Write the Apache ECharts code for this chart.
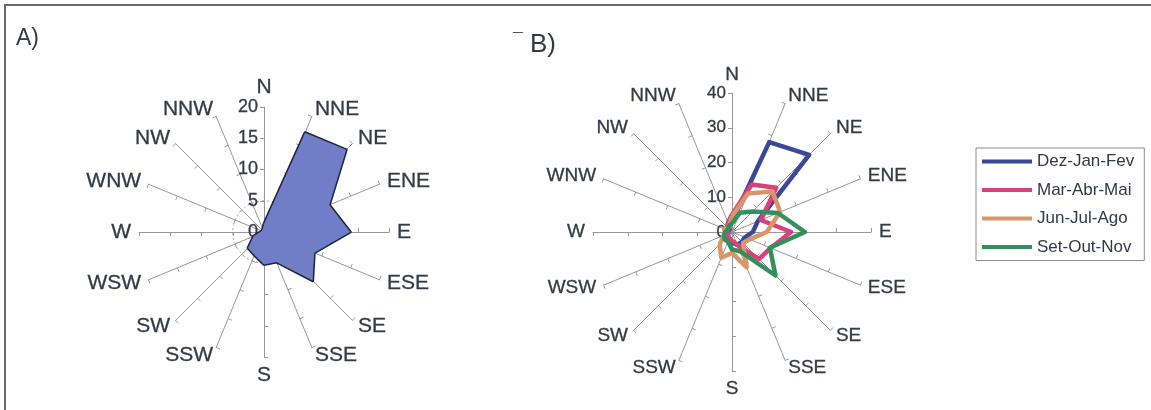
<!DOCTYPE html>
<html>
<head>
<meta charset="utf-8">
<title>Rosa dos ventos</title>
<script src="https://cdn.jsdelivr.net/npm/echarts@6/dist/echarts.min.js"></script>
<style>
  html, body { margin: 0; padding: 0; background: #ffffff; }
  #chart { width: 1151px; height: 410px; }
</style>
</head>
<body>
<div id="chart"></div>
<script>
// Wind directions, listed clockwise from north
const directions = ['N', 'NNE', 'NE', 'ENE', 'E', 'ESE', 'SE', 'SSE', 'S', 'SSW', 'SW', 'WSW', 'W', 'WNW', 'NW', 'NNW'];

// A) annual frequency (%) per direction
const annualFreq = [1.3, 17.2, 18.6, 11.3, 13.8, 8.7, 11.0, 5.2, 5.2, 4.0, 3.6, 1.8, 0.6, 0.4, 0.4, 0.5];

// B) seasonal frequency (%) per direction
const seasonNames = ['Dez-Jan-Fev', 'Mar-Abr-Mai', 'Jun-Jul-Ago', 'Set-Out-Nov'];
const dezJanFev = [3.0, 28.0, 31.4, 8.0, 6.0, 4.0, 4.0, 4.0, 3.0, 2.0, 2.0, 1.5, 1.0, 1.0, 1.0, 2.0];
const marAbrMai = [5.0, 14.8, 18.0, 9.0, 17.0, 12.0, 11.0, 4.0, 2.5, 2.0, 2.0, 1.5, 1.0, 1.5, 2.0, 3.0];
const junJulAgo = [4.5, 12.0, 16.5, 15.0, 10.0, 5.5, 4.5, 11.0, 6.0, 8.0, 5.0, 2.5, 2.0, 2.5, 1.5, 2.0];
const setOutNov = [2.5, 6.0, 8.3, 14.3, 21.0, 11.8, 17.7, 6.0, 5.0, 3.0, 3.0, 2.5, 2.0, 1.5, 1.5, 2.0];

// Radial tick values on the north axis of each rose
const ticksA = [0, 5, 10, 15, 20];
const ticksB = [0, 10, 20, 30, 40];

const seasonColors = ['#3b4797', '#d9417c', '#d8966a', '#34905a'];
const seasonValues = [dezJanFev, marAbrMai, junJulAgo, setOutNov];

const FONT = '"Liberation Sans", Arial, Helvetica, sans-serif';
const TEXT = '#343946';
const AXIS_GREY = '#979797';

// ECharts lays radar indicators out counter-clockwise; reorder so the
// compass reads clockwise (N at top, E on the right).
const order = directions.map((_, i) => (directions.length - i) % directions.length);
const reorder = arr => order.map(i => arr[i]);

function indicators(ticks, labelSize) {
  const max = ticks[ticks.length - 1];
  return order.map((d, k) => ({
    name: directions[d],
    min: ticks[0],
    max: max,
    axisLabel: k === 0
      ? { show: true, fontSize: labelSize, color: TEXT, fontFamily: FONT, margin: 6,
          textBorderColor: TEXT, textBorderWidth: 0.3 }
      : { show: false }
  }));
}

function roseRadar(center, radius, ticks, nameSize, labelSize, ringColors) {
  return {
    center: center,
    radius: radius,
    startAngle: 90,
    shape: 'circle',
    splitNumber: ticks.length - 1,
    indicator: indicators(ticks, labelSize),
    nameGap: 8,
    axisName: { color: TEXT, fontSize: nameSize, fontFamily: FONT, textBorderColor: TEXT, textBorderWidth: 0.3 },
    axisLine: { show: true, lineStyle: { color: AXIS_GREY, width: 1 } },
    axisTick: { show: true, length: 4, lineStyle: { color: AXIS_GREY, width: 1 } },
    axisLabel: { show: false },
    splitLine: ringColors
      ? { show: true, lineStyle: { color: ringColors, width: 1, type: [2, 3] } }
      : { show: false },
    splitArea: { show: false }
  };
}

const chart = echarts.init(document.getElementById('chart'), null, { renderer: 'canvas' });

chart.setOption({
  backgroundColor: '#ffffff',
  animation: false,
  textStyle: { fontFamily: FONT },
  graphic: [
    {
      type: 'rect',
      shape: { x: 5, y: 5, width: 1300, height: 600 },
      style: { fill: 'none', stroke: '#6b6b6b', lineWidth: 2 },
      silent: true
    },
    { type: 'text', left: 16, top: 27, style: { text: 'A)', fontSize: 23, fill: TEXT, fontFamily: FONT } },
    { type: 'text', left: 513, top: 32, style: { text: '¯', fontSize: 18, fill: TEXT, fontFamily: FONT } },
    { type: 'text', left: 530, top: 32, style: { text: 'B)', fontSize: 26, fill: TEXT, fontFamily: FONT } }
  ],
  legend: {
    orient: 'vertical',
    left: 976,
    top: 148,
    data: seasonNames,
    icon: 'rect',
    itemWidth: 50,
    itemHeight: 4,
    itemGap: 11.5,
    padding: [5, 10, 5, 6],
    backgroundColor: '#ffffff',
    borderColor: '#8c8c8c',
    borderWidth: 1,
    selectedMode: false,
    textStyle: { fontSize: 17, color: TEXT, fontFamily: FONT }
  },
  radar: [
    roseRadar([264, 232], 125, ticksA, 21, 18,
      ['transparent', '#a8a8a8', 'transparent', 'transparent', 'transparent']),
    roseRadar([732, 232], 139, ticksB, 19, 17, null)
  ],
  series: [
    {
      type: 'radar',
      radarIndex: 0,
      name: 'Anual',
      symbol: 'none',
      lineStyle: { color: '#1e2442', width: 3 },
      itemStyle: { color: '#1e2442' },
      areaStyle: { color: '#6f7ec6', opacity: 1 },
      data: [{ name: 'Anual', value: reorder(annualFreq) }]
    }
  ].concat(seasonNames.map((name, i) => ({
    type: 'radar',
    radarIndex: 1,
    name: name,
    symbol: 'none',
    lineStyle: { color: seasonColors[i], width: 4.5 },
    itemStyle: { color: seasonColors[i] },
    data: [{ name: name, value: reorder(seasonValues[i]) }]
  })))
});
</script>
</body>
</html>
